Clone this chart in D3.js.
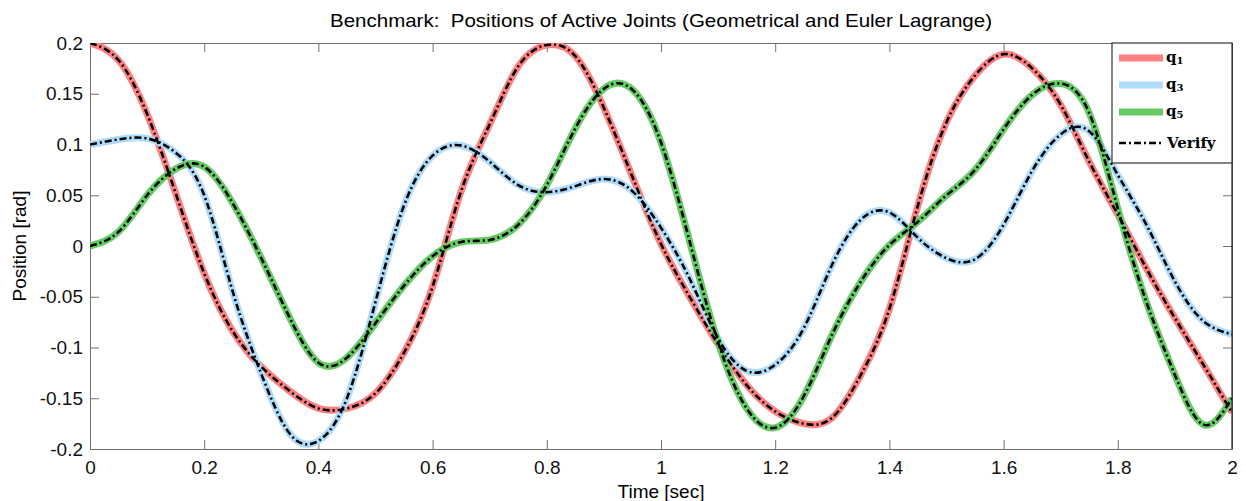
<!DOCTYPE html>
<html>
<head>
<meta charset="utf-8">
<script src="https://cdn.jsdelivr.net/npm/d3@7"></script>
<style>
  body { margin: 0; background: #fff; }
  text { font-family: "Liberation Sans", Arial, sans-serif; }
</style>
</head>
<body>
<script>
// time samples (sec)
var time = d3.range(0, 41).map(function(i) { return +(i * 0.05).toFixed(2); });

// joint positions (rad)
var q1 = [0.200, 0.183, 0.130, 0.052, -0.027, -0.084, -0.119, -0.143, -0.160, -0.160,
          -0.145, -0.105, -0.040, 0.054, 0.120, 0.177, 0.198, 0.187, 0.136, 0.068,
          0.002, -0.050, -0.097, -0.137, -0.163, -0.175, -0.169, -0.127, -0.062, 0.040,
          0.122, 0.168, 0.189, 0.175, 0.139, 0.083, 0.031, -0.022, -0.071, -0.117, -0.164];
var q3 = [0.100, 0.105, 0.106, 0.092, 0.050, -0.045, -0.126, -0.185, -0.192, -0.150,
          -0.055, 0.040, 0.089, 0.099, 0.083, 0.060, 0.053, 0.059, 0.066, 0.054,
          0.018, -0.032, -0.091, -0.123, -0.117, -0.081, -0.018, 0.026, 0.033, 0.008,
          -0.012, -0.013, 0.021, 0.074, 0.110, 0.113, 0.070, 0.021, -0.035, -0.074, -0.087];
var q5 = [0.000, 0.014, 0.050, 0.076, 0.078, 0.042, -0.012, -0.071, -0.115, -0.110,
          -0.076, -0.039, -0.010, 0.004, 0.006, 0.021, 0.060, 0.116, 0.155, 0.154,
          0.102, 0.005, -0.095, -0.160, -0.179, -0.148, -0.087, -0.035, 0.001, 0.024,
          0.050, 0.075, 0.115, 0.149, 0.160, 0.131, 0.037, -0.055, -0.127, -0.176, -0.150];

var seriesNames = ["q1", "q3", "q5"];
var seriesColors = ["#ff8080", "#b0dcfb", "#66cc66"];
var xTicks = [0, 0.2, 0.4, 0.6, 0.8, 1, 1.2, 1.4, 1.6, 1.8, 2];
var yTicks = [-0.2, -0.15, -0.1, -0.05, 0, 0.05, 0.1, 0.15, 0.2];

var W = 1246, H = 501;
var margin = {top: 43, right: 14, bottom: 52, left: 90};
var width = W - margin.left - margin.right, height = H - margin.top - margin.bottom;

var svg = d3.select("body").append("svg")
    .attr("width", W)
    .attr("height", H);

var g = svg.append("g")
    .attr("transform", "translate(" + margin.left + "," + margin.top + ")");

var x = d3.scaleLinear().domain([0, 2]).range([0, width]);
var y = d3.scaleLinear().domain([-0.2, 0.2]).range([height, 0]);

var fmt = function(d) { return String(+d.toFixed(2)); };

// axes, ticks pointing inward on all four sides
var axisColor = "#707070";
g.append("g").attr("transform", "translate(0," + height + ")")
    .call(d3.axisBottom(x).tickValues(xTicks).tickFormat(fmt).tickSizeInner(-9).tickSizeOuter(0).tickPadding(12));
g.append("g")
    .call(d3.axisLeft(y).tickValues(yTicks).tickFormat(fmt).tickSizeInner(-9).tickSizeOuter(0).tickPadding(7));
g.append("g")
    .call(d3.axisTop(x).tickValues(xTicks).tickFormat("").tickSizeInner(-9).tickSizeOuter(0));
g.append("g").attr("transform", "translate(" + width + ",0)")
    .call(d3.axisRight(y).tickValues(yTicks).tickFormat("").tickSizeInner(-9).tickSizeOuter(0));

g.selectAll(".domain").attr("stroke", axisColor);
g.selectAll(".tick line").attr("stroke", axisColor);
g.selectAll(".tick text").style("font-size", "19px").attr("fill", "#111");

// curves: thick coloured line with dash-dot "Verify" line on top
g.append("clipPath").attr("id", "clip")
    .append("rect").attr("width", width).attr("height", height);

var line = d3.line()
    .x(function(d, i) { return x(time[i]); })
    .y(function(d) { return y(d); })
    .curve(d3.curveNatural);

var allSeries = [q1, q3, q5];
var plot = g.append("g").attr("clip-path", "url(#clip)");
allSeries.forEach(function(s, k) {
    plot.append("path")
        .datum(s)
        .attr("fill", "none")
        .attr("stroke", seriesColors[k])
        .attr("stroke-width", 7)
        .attr("d", line);
});
allSeries.forEach(function(s) {
    plot.append("path")
        .datum(s)
        .attr("fill", "none")
        .attr("stroke", "#000")
        .attr("stroke-width", 2.6)
        .attr("stroke-dasharray", "7,3,2,3")
        .attr("d", line);
});

// frame right edge is darker
g.append("line").attr("x1", width).attr("x2", width).attr("y1", 0).attr("y2", height)
    .attr("stroke", "#222").attr("stroke-width", 1.2);

// legend
var serif = "'DejaVu Serif', 'Liberation Serif', serif";
var lg = g.append("g").attr("transform", "translate(" + (width - 120) + ",0)");
lg.append("rect").attr("width", 120).attr("height", 120)
    .attr("fill", "#fff").attr("stroke", "#333").attr("stroke-width", 1.2);
seriesNames.forEach(function(name, k) {
    var yy = 15 + k * 27;
    lg.append("line").attr("x1", 7).attr("x2", 51).attr("y1", yy).attr("y2", yy)
        .attr("stroke", seriesColors[k]).attr("stroke-width", 7);
    var t = lg.append("text").attr("x", 54).attr("y", yy + 4)
        .style("font-family", serif)
        .style("font-size", "15px").style("font-weight", "bold");
    t.append("tspan").text(name.charAt(0));
    t.append("tspan").attr("dy", 2).style("font-size", "10px").text(name.slice(1));
});
lg.append("line").attr("x1", 7).attr("x2", 51).attr("y1", 100).attr("y2", 100)
    .attr("stroke", "#000").attr("stroke-width", 2.6).attr("stroke-dasharray", "7,3,2,3");
lg.append("text").attr("x", 55).attr("y", 105)
    .style("font-family", serif)
    .style("font-size", "15px").style("font-weight", "bold")
    .text("Verify");

// titles
svg.append("text")
    .attr("x", margin.left + width / 2)
    .attr("y", 27)
    .attr("text-anchor", "middle")
    .attr("textLength", 662)
    .attr("lengthAdjust", "spacingAndGlyphs")
    .style("font-size", "19px")
    .style("white-space", "pre")
    .text("Benchmark:  Positions of Active Joints (Geometrical and Euler Lagrange)");

svg.append("text")
    .attr("x", margin.left + width / 2)
    .attr("y", 498)
    .attr("text-anchor", "middle")
    .style("font-size", "19px")
    .text("Time [sec]");

svg.append("text")
    .attr("transform", "rotate(-90)")
    .attr("x", -(margin.top + height / 2))
    .attr("y", 26)
    .attr("text-anchor", "middle")
    .style("font-size", "19px")
    .text("Position [rad]");
</script>
</body>
</html>
